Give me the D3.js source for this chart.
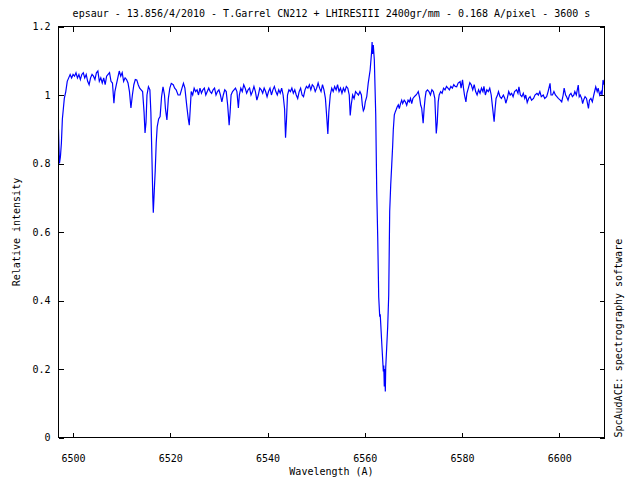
<!DOCTYPE html>
<html>
<head>
<meta charset="utf-8">
<script src="https://cdn.jsdelivr.net/npm/d3@7"></script>
<style>
  html, body { margin: 0; padding: 0; background: #fff; }
  svg { display: block; }
</style>
</head>
<body>
<svg id="chart" width="640" height="480"></svg>
<script>
const titleText = "epsaur - 13.856/4/2010 - T.Garrel CN212 + LHIRESIII 2400gr/mm - 0.168 A/pixel - 3600 s";
const xLabelText = "Wavelength (A)";
const yLabelText = "Relative intensity";
const y2LabelText = "SpcAudACE: spectrography software";
const xDomain = [6496.9, 6609.3];
const yDomain = [0, 1.2];
const xTicks = [6500, 6520, 6540, 6560, 6580, 6600];
const yTicks = [0, 0.2, 0.4, 0.6, 0.8, 1, 1.2];

// [wavelength (A), relative intensity]
const spectrum = [
[6497.0,0.90],[6497.2,0.80],[6497.4,0.82],[6497.6,0.86],[6497.8,0.93],[6498.0,0.96],[6498.2,0.99],[6498.5,1.01],
[6498.8,1.04],[6499.1,1.05],[6499.4,1.06],[6499.7,1.05],[6500.0,1.06],
[6500.3,1.055],[6500.6,1.065],[6500.9,1.05],[6501.2,1.06],[6501.5,1.045],[6501.8,1.06],[6502.1,1.065],[6502.4,1.05],
[6502.7,1.06],[6503.0,1.04],[6503.3,1.03],[6503.6,1.05],[6503.9,1.06],[6504.2,1.055],[6504.5,1.045],[6504.8,1.065],
[6505.1,1.07],[6505.4,1.04],[6505.7,1.05],[6506.0,1.035],[6506.3,1.05],[6506.6,1.03],[6506.9,1.055],[6507.2,1.06],
[6507.5,1.065],[6507.8,1.04],[6508.1,1.035],[6508.4,0.976],[6508.6,1.01],[6508.9,1.03],[6509.2,1.05],[6509.5,1.07],
[6509.8,1.055],[6510.1,1.065],[6510.4,1.04],[6510.7,1.05],[6511.0,1.045],[6511.3,1.035],[6511.6,1.01],[6511.9,0.962],
[6512.2,1.0],[6512.5,1.03],[6512.8,1.045],[6513.1,1.044],[6513.4,1.03],[6513.7,1.02],[6514.0,1.015],[6514.3,1.01],
[6514.6,0.95],[6514.8,0.889],[6515.0,0.92],[6515.2,1.0],[6515.5,1.024],[6515.8,1.015],[6516.0,0.95],[6516.2,0.83],
[6516.4,0.70],[6516.5,0.656],[6516.7,0.72],[6516.9,0.78],[6517.1,0.86],[6517.3,0.907],[6517.6,0.93],[6517.9,0.937],
[6518.2,0.995],[6518.5,1.024],[6518.8,1.0],[6519.0,0.96],[6519.3,0.927],[6519.6,0.99],[6519.9,1.02],[6520.2,1.034],
[6520.6,1.03],[6520.9,1.02],[6521.2,1.015],[6521.6,1.0],[6522.0,1.0],[6522.4,1.02],[6522.7,1.034],[6523.0,1.02],
[6523.4,0.966],[6523.7,0.93],[6523.9,0.912],[6524.1,0.96],[6524.3,1.01],[6524.6,1.0],[6524.9,1.02],[6525.2,1.01],
[6525.5,1.015],[6525.8,1.0],[6526.1,1.02],[6526.4,1.005],[6526.7,1.015],[6527.0,1.02],[6527.3,1.0],[6527.6,1.01],
[6527.9,1.02],[6528.2,1.01],[6528.5,1.005],[6528.8,1.015],[6529.1,1.02],[6529.4,1.0],[6529.7,1.01],[6530.0,1.015],
[6530.3,1.0],[6530.6,0.98],[6530.9,1.0],[6531.2,1.015],[6531.5,1.01],[6531.8,0.97],[6532.1,0.912],[6532.3,0.95],
[6532.5,1.0],[6532.8,1.01],[6533.1,1.015],[6533.4,1.02],[6533.7,1.01],[6534.0,0.962],[6534.2,1.0],[6534.5,1.02],
[6534.8,1.01],[6535.1,1.03],[6535.4,1.02],[6535.7,1.005],[6536.0,1.015],[6536.3,1.02],[6536.6,1.0],[6536.9,1.01],
[6537.2,1.025],[6537.5,1.01],[6537.8,0.985],[6538.1,1.0],[6538.4,1.02],[6538.7,1.015],[6539.0,1.005],[6539.3,1.02],
[6539.6,1.01],[6539.9,0.995],[6540.2,1.01],[6540.5,1.02],[6540.8,1.0],[6541.1,1.015],[6541.4,1.025],[6541.7,1.01],
[6542.0,1.0],[6542.3,1.015],[6542.6,1.005],[6542.9,1.02],[6543.2,1.0],[6543.5,0.96],[6543.7,0.875],[6543.9,0.93],
[6544.1,1.0],[6544.4,1.015],[6544.7,1.01],[6545.0,1.02],[6545.3,1.005],[6545.6,1.015],[6545.9,1.0],[6546.2,0.99],
[6546.5,1.01],[6546.8,1.02],[6547.1,1.0],[6547.4,0.995],[6547.7,1.015],[6548.0,1.025],[6548.3,1.02],[6548.6,1.03],
[6548.9,1.015],[6549.2,1.03],[6549.5,1.025],[6549.8,1.01],[6550.1,1.02],[6550.4,1.035],[6550.7,1.02],[6551.0,1.01],
[6551.3,1.03],[6551.6,1.015],[6551.9,0.99],[6552.2,0.93],[6552.4,0.886],[6552.6,0.95],[6552.9,1.0],[6553.2,1.02],
[6553.5,1.01],[6553.8,1.025],[6554.1,1.015],[6554.4,1.03],[6554.7,1.01],[6555.0,1.02],[6555.3,1.005],[6555.6,1.02],
[6555.9,1.01],[6556.2,1.025],[6556.5,1.02],[6556.8,1.0],[6557.0,0.94],[6557.2,0.97],[6557.5,1.0],[6557.8,0.99],
[6558.1,1.01],[6558.4,1.005],[6558.7,1.0],[6559.0,1.01],[6559.3,1.0],[6559.5,0.97],[6559.7,0.954],[6559.9,0.96],
[6560.1,0.98],[6560.4,0.995],[6560.7,1.034],[6561.1,1.073],[6561.4,1.126],[6561.5,1.155],[6561.6,1.12],[6561.75,1.146],
[6561.96,1.102],[6562.25,0.942],[6562.45,0.723],[6562.66,0.583],[6562.86,0.411],[6563.07,0.353],[6563.17,0.36],[6563.27,0.334],
[6563.54,0.262],[6563.81,0.193],[6563.9,0.21],[6564.01,0.149],[6564.1,0.20],[6564.22,0.134],[6564.3,0.203],[6564.5,0.262],
[6564.71,0.324],[6564.92,0.416],[6565.12,0.66],[6565.33,0.737],[6565.54,0.796],[6565.74,0.854],[6565.86,0.898],[6566.07,0.942],
[6566.25,0.95],[6566.42,0.956],[6566.65,0.965],[6566.89,0.971],[6567.1,0.96],[6567.35,0.975],[6567.59,0.985],[6567.8,0.975],
[6568.1,0.985],[6568.35,0.98],[6568.62,0.97],[6568.9,0.985],[6569.15,0.98],[6569.4,0.99],[6569.65,0.975],[6569.9,0.99],
[6570.2,0.995],[6570.53,1.0],[6570.8,1.005],[6571.0,1.01],[6571.3,0.99],[6571.5,0.97],[6571.7,0.962],[6571.85,0.94],
[6572.0,0.918],[6572.2,0.96],[6572.4,0.99],[6572.6,1.01],[6572.9,1.015],[6573.2,1.01],[6573.5,1.0],[6573.8,1.015],
[6574.1,1.01],[6574.4,0.99],[6574.6,0.922],[6574.7,0.888],[6574.9,0.92],[6575.1,0.98],[6575.3,1.0],[6575.6,1.01],
[6575.9,1.005],[6576.2,1.02],[6576.5,1.015],[6576.8,1.025],[6577.1,1.02],[6577.4,1.015],[6577.7,1.025],[6578.0,1.02],
[6578.3,1.03],[6578.6,1.025],[6578.9,1.024],[6579.2,1.035],[6579.6,1.039],[6579.8,1.02],[6580.1,1.044],[6580.3,1.02],
[6580.5,1.0],[6580.8,0.98],[6581.0,1.005],[6581.3,1.02],[6581.6,1.036],[6581.9,1.03],[6582.2,1.015],[6582.5,1.03],
[6582.8,1.01],[6583.1,1.0],[6583.4,1.015],[6583.7,1.005],[6584.0,1.02],[6584.3,1.01],[6584.5,1.025],[6584.8,1.0],
[6585.1,1.015],[6585.4,1.01],[6585.7,1.02],[6586.0,1.0],[6586.3,0.961],[6586.6,0.922],[6586.8,0.96],[6587.0,0.99],
[6587.3,1.0],[6587.5,1.01],[6587.8,0.995],[6588.1,0.99],[6588.5,1.0],[6588.8,0.99],[6589.0,0.976],[6589.3,0.99],
[6589.6,1.01],[6589.9,1.0],[6590.2,1.005],[6590.5,0.995],[6590.8,1.01],[6591.2,1.015],[6591.5,1.005],[6591.7,1.024],
[6592.0,1.0],[6592.3,0.995],[6592.6,1.005],[6592.9,0.99],[6593.1,1.0],[6593.4,0.978],[6593.7,0.99],[6594.0,0.995],
[6594.3,0.985],[6594.7,0.99],[6595.0,1.0],[6595.4,1.005],[6595.7,1.0],[6596.0,1.01],[6596.3,0.995],[6596.7,1.0],
[6597.0,0.99],[6597.4,0.995],[6597.7,1.01],[6598.1,1.034],[6598.3,1.0],[6598.6,1.0],[6598.9,1.01],[6599.2,1.0],
[6599.5,0.995],[6599.8,0.99],[6600.2,0.985],[6600.5,0.98],[6600.8,1.0],[6601.0,1.02],[6601.3,1.0],[6601.5,0.995],
[6601.8,0.985],[6602.1,1.0],[6602.4,1.005],[6602.7,0.995],[6603.0,1.0],[6603.2,1.01],[6603.5,1.0],[6603.9,1.029],
[6604.1,0.995],[6604.3,1.0],[6604.6,0.99],[6604.8,0.975],[6605.0,0.985],[6605.3,0.995],[6605.6,0.99],[6606.0,0.961],
[6606.2,0.985],[6606.5,0.99],[6606.8,0.98],[6607.1,1.0],[6607.5,1.024],[6607.8,1.01],[6608.0,1.02],[6608.3,1.0],
[6608.6,1.01],[6608.8,1.0],[6609.0,1.044],[6609.2,1.03],[6609.4,1.05]
];

const W = 640, H = 480;
const plot = { left: 58.5, right: 604.5, top: 26.5, bottom: 437.5 };
const FONT = "'DejaVu Sans Mono', 'Liberation Mono', monospace";

const svg = d3.select("#chart");
svg.append("rect").attr("width", W).attr("height", H).attr("fill", "#fff");

const x = d3.scaleLinear().domain(xDomain).range([plot.left - 0.5, plot.right]);
const y = d3.scaleLinear().domain(yDomain).range([plot.bottom, plot.top]);

function styleAxis(g) {
  g.select(".domain").remove();
  g.selectAll("line").attr("stroke", "#000").attr("stroke-width", 1).attr("shape-rendering", "crispEdges");
  g.selectAll("text").attr("fill", "#000").style("font-family", FONT).style("font-size", "10px");
}

svg.append("g").attr("transform", `translate(0,${plot.bottom})`)
  .call(d3.axisBottom(x).tickValues(xTicks).tickSize(-5).tickPadding(17).tickFormat(d3.format("d")))
  .call(styleAxis);
svg.append("g").attr("transform", `translate(0,${plot.top})`)
  .call(d3.axisTop(x).tickValues(xTicks).tickSize(-5).tickFormat(""))
  .call(styleAxis);
svg.append("g").attr("transform", `translate(${plot.left},0)`)
  .call(d3.axisLeft(y).tickValues(yTicks).tickSize(-5).tickPadding(8).tickFormat(d3.format("~g")))
  .call(styleAxis);
svg.append("g").attr("transform", `translate(${plot.right},0)`)
  .call(d3.axisRight(y).tickValues(yTicks).tickSize(-5).tickFormat(""))
  .call(styleAxis);

svg.append("clipPath").attr("id", "clip")
  .append("rect").attr("x", plot.left).attr("y", plot.top)
  .attr("width", plot.right - plot.left).attr("height", plot.bottom - plot.top);

const line = d3.line().x(d => x(d[0])).y(d => y(d[1]));
svg.append("path").datum(spectrum)
  .attr("clip-path", "url(#clip)")
  .attr("fill", "none").attr("stroke", "#0000ff").attr("stroke-width", 1.2)
  .attr("stroke-linejoin", "miter")
  .attr("d", line);

svg.append("rect")
  .attr("x", plot.left).attr("y", plot.top)
  .attr("width", plot.right - plot.left).attr("height", plot.bottom - plot.top)
  .attr("fill", "none").attr("stroke", "#000").attr("stroke-width", 1)
  .attr("shape-rendering", "crispEdges");

const cx = (plot.left + plot.right) / 2;
svg.append("text").attr("x", cx).attr("y", 17).attr("text-anchor", "middle")
  .style("font-family", FONT).style("font-size", "10px").text(titleText);
svg.append("text").attr("x", cx).attr("y", 475).attr("text-anchor", "middle")
  .style("font-family", FONT).style("font-size", "10px").text(xLabelText);
svg.append("text").attr("transform", `translate(20,${(plot.top + plot.bottom) / 2}) rotate(-90)`)
  .attr("text-anchor", "middle")
  .style("font-family", FONT).style("font-size", "10px").text(yLabelText);
svg.append("text").attr("transform", `translate(622,${plot.bottom}) rotate(-90)`)
  .attr("text-anchor", "start")
  .style("font-family", FONT).style("font-size", "10px").text(y2LabelText);
</script>
</body>
</html>
